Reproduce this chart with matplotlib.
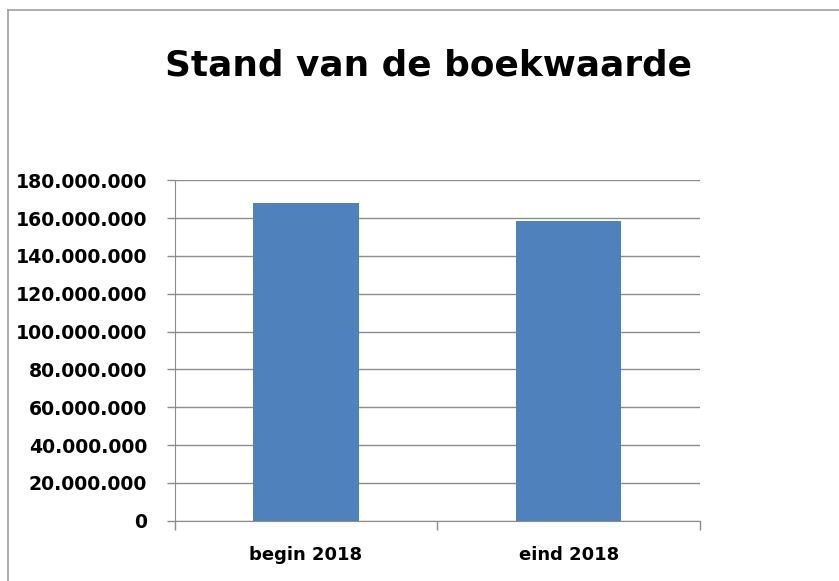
import numpy as np
import matplotlib.pyplot as plt
from matplotlib.lines import Line2D
from matplotlib.ticker import FuncFormatter, FixedLocator

# data
categories = ["begin 2018", "eind 2018"]
values = [167.8e6, 158.5e6]
y_ticks = np.arange(0, 180e6 + 1, 20e6)


def dutch_thousands(v, pos):
    return f"{int(round(v)):,}".replace(",", ".")


def main():
    fig = plt.figure(figsize=(8.39, 5.81), dpi=100)
    ax = fig.add_axes([0.2082, 0.1038, 0.6261, 0.5859])

    x = np.arange(len(categories))
    ax.bar(x, values, width=0.4, color="#4F81BD", zorder=3)

    ax.set_xlim(-0.5, len(categories) - 0.5)
    ax.set_ylim(0, 180e6)
    ax.set_yticks(y_ticks)
    ax.yaxis.set_major_formatter(FuncFormatter(dutch_thousands))
    ax.grid(axis="y", color="#8c8c8c", linewidth=1.0, zorder=0)

    # category boundary ticks without labels, labels at the centres
    ax.xaxis.set_major_locator(FixedLocator(np.arange(-0.5, len(categories), 1.0)))
    ax.xaxis.set_minor_locator(FixedLocator(x))
    ax.set_xticklabels([])
    ax.set_xticklabels(categories, minor=True)
    ax.tick_params(axis="x", which="major", length=6.5, width=1.0, color="#8c8c8c")
    ax.tick_params(axis="x", which="minor", length=0, pad=18)
    ax.tick_params(axis="y", length=5.8, width=1.0, color="#8c8c8c", pad=14)

    for lbl in ax.get_yticklabels():
        lbl.set_fontweight("bold")
        lbl.set_fontsize(13.6)
    for lbl in ax.get_xticklabels(minor=True):
        lbl.set_fontweight("bold")
        lbl.set_fontsize(13)

    for s in ["top", "right"]:
        ax.spines[s].set_visible(False)
    ax.spines["left"].set_color("#8c8c8c")
    ax.spines["bottom"].set_color("#8c8c8c")

    fig.text(0.511, 0.888, "Stand van de boekwaarde", ha="center", va="center",
             fontsize=25.8, fontweight="bold")

    # outer chart frame (only left and top visible)
    fig.add_artist(Line2D([0.0095, 0.0095], [0.9828, 0.0], color="#a0a0a0", linewidth=1.2))
    fig.add_artist(Line2D([0.0095, 1.0], [0.9828, 0.9828], color="#a0a0a0", linewidth=1.2))

    fig.savefig("out.png", dpi=100)


if __name__ == "__main__":
    main()
